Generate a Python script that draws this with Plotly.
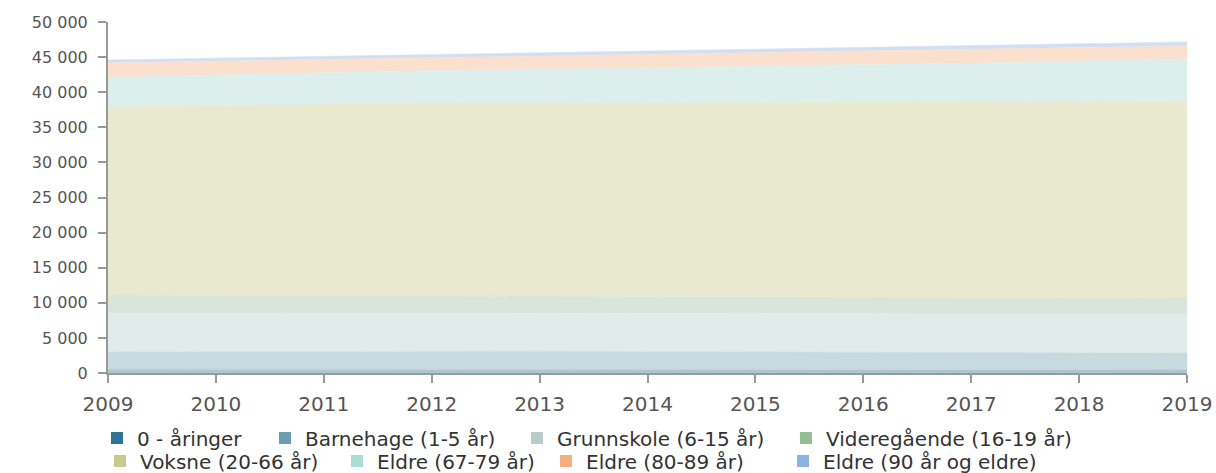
import plotly.graph_objects as go

years = [2009, 2010, 2011, 2012, 2013, 2014, 2015, 2016, 2017, 2018, 2019]

series_names = [
    "0 - åringer",
    "Barnehage (1-5 år)",
    "Grunnskole (6-15 år)",
    "Videregående (16-19 år)",
    "Voksne (20-66 år)",
    "Eldre (67-79 år)",
    "Eldre (80-89 år)",
    "Eldre (90 år og eldre)",
]

aar0 = [520, 510, 500, 500, 490, 480, 470, 460, 450, 450, 440]
barnehage = [2480, 2540, 2600, 2600, 2610, 2570, 2530, 2490, 2450, 2400, 2410]
grunnskole = [5550, 5500, 5450, 5400, 5400, 5400, 5450, 5500, 5500, 5550, 5550]
videregaende = [2550, 2500, 2450, 2450, 2400, 2400, 2350, 2300, 2300, 2300, 2300]
voksne = [26800, 27050, 27300, 27500, 27600, 27650, 27700, 27800, 27850, 27900, 27950]
eldre_67_79 = [4250, 4400, 4550, 4650, 4800, 5000, 5200, 5350, 5600, 5850, 6100]
eldre_80_89 = [2050, 1950, 1850, 1850, 1900, 1900, 1900, 1950, 1950, 1900, 1850]
eldre_90 = [400, 400, 420, 430, 440, 450, 460, 470, 480, 500, 560]

values = [aar0, barnehage, grunnskole, videregaende, voksne, eldre_67_79, eldre_80_89, eldre_90]

fill_colors = ["#adc6d1", "#c6dae0", "#e2ebeb", "#dae5da", "#e9e9d0", "#dcefed", "#fae0cd", "#d2def3"]
legend_colors = ["#2e7494", "#6b9db5", "#b9cccc", "#93bd93", "#c8c98c", "#a9ddd6", "#f4ae80", "#8db3e2"]

y_ticks = [0, 5000, 10000, 15000, 20000, 25000, 30000, 35000, 40000, 45000, 50000]
y_tick_text = ["0", "5 000", "10 000", "15 000", "20 000", "25 000", "30 000", "35 000", "40 000", "45 000", "50 000"]

# legend layout: text start pixel (figure coords) and row for each entry
legend_text_x = [137, 305, 557, 826, 140, 377, 586, 823]
legend_row = [0, 0, 0, 0, 1, 1, 1, 1]
row_center_y = [438, 461]

W, H = 1216, 473
FONT = "DejaVu Sans, Liberation Sans, Arial, sans-serif"

fig = go.Figure()
for name, vals, fc in zip(series_names, values, fill_colors):
    fig.add_trace(go.Scatter(
        x=years, y=vals, name=name, stackgroup="one", mode="lines",
        line=dict(width=0.5, color=fc), fillcolor=fc, showlegend=False,
        hoverinfo="x+y+name",
    ))

legends = {}
for i, (name, lc) in enumerate(zip(series_names, legend_colors)):
    key = "legend" if i == 0 else f"legend{i + 1}"
    fig.add_trace(go.Scatter(
        x=[None], y=[None], name=name, mode="markers",
        marker=dict(symbol="square", size=12, color=lc), showlegend=True,
        legend=key,
    ))
    legends[key] = dict(
        orientation="h", xref="container", yref="container",
        x=(legend_text_x[i] - 40) / W, y=1 - row_center_y[legend_row[i]] / H,
        xanchor="left", yanchor="middle",
        font=dict(family=FONT, size=20, color="#333333"), itemwidth=30,
        bgcolor="rgba(0,0,0,0)", borderwidth=0,
    )

fig.update_layout(
    width=W, height=H,
    margin=dict(l=108, r=29, t=22, b=100),
    paper_bgcolor="white", plot_bgcolor="white",
    font=dict(family=FONT, size=16, color="#555555"),
    xaxis=dict(
        range=[2009, 2019], tickmode="array", tickvals=years,
        ticktext=[str(y) for y in years], automargin=False,
        showgrid=False, zeroline=False, showline=True, linecolor="#999999", linewidth=2,
        ticks="outside", ticklen=8, tickcolor="#999999", tickwidth=2,
        ticklabelstandoff=4,
        tickfont=dict(family=FONT, size=20, color="#555555"),
    ),
    yaxis=dict(
        range=[0, 50000], tickmode="array", tickvals=y_ticks, ticktext=y_tick_text,
        automargin=False,
        showgrid=False, zeroline=False, showline=True, linecolor="#999999", linewidth=2,
        ticks="outside", ticklen=8, tickcolor="#999999", tickwidth=2,
        ticklabelstandoff=7,
        tickfont=dict(family=FONT, size=16, color="#555555"),
    ),
    **legends,
)

fig.write_html(
    "out.html",
    config={"displayModeBar": False},
    post_script="document.body.style.margin='0';document.body.style.overflow='hidden';",
)
